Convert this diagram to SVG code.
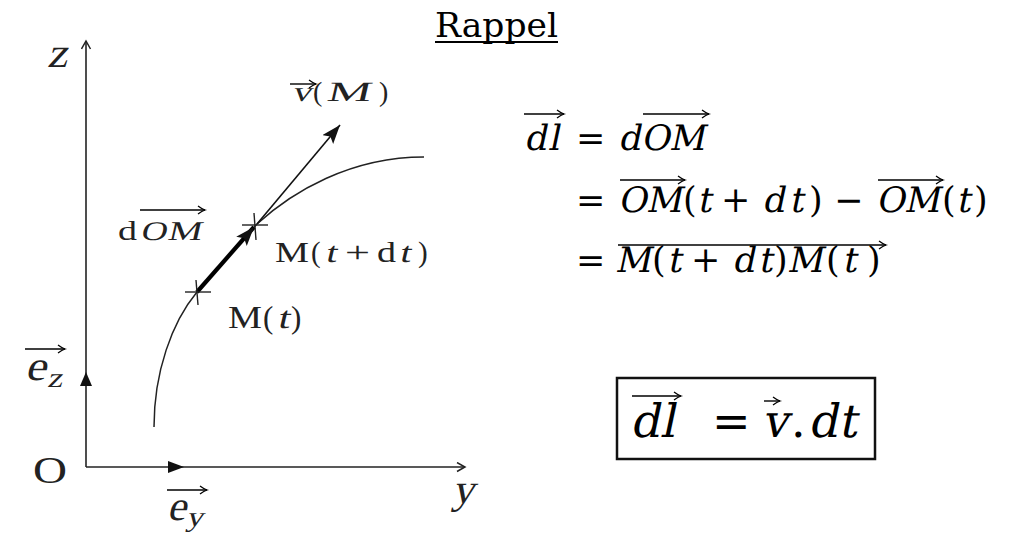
<svg xmlns="http://www.w3.org/2000/svg" width="1015" height="535" viewBox="0 0 1015 535">
<style>
.ax{stroke:#222;stroke-width:1.6;fill:none}
.cv{stroke:#222;stroke-width:1.5;fill:none}
.tk{stroke:#222;stroke-width:1.4;fill:none}
.ov{stroke:#000;stroke-width:1.4;fill:none}
.lt{font-family:"Liberation Serif",serif;fill:#222}
.eq{font-family:"DejaVu Serif",serif;fill:#000;font-size:35px}
.bg{font-family:"DejaVu Serif",serif;fill:#000;font-size:46px}
</style>
<defs>
<marker id="open" markerUnits="userSpaceOnUse" markerWidth="14" markerHeight="14" refX="9" refY="5" orient="auto">
<path d="M1,0.5 L9,5 L1,9.5" fill="none" stroke="#222" stroke-width="1.5"/>
</marker>
<marker id="vec" markerUnits="userSpaceOnUse" markerWidth="12" markerHeight="12" refX="8" refY="5" orient="auto">
<path d="M1,1 Q5,4 8,5 Q5,6 1,9" fill="none" stroke="#000" stroke-width="1.3"/>
</marker>
<marker id="fill" markerUnits="userSpaceOnUse" markerWidth="22" markerHeight="16" refX="19" refY="7" orient="auto">
<path d="M0,0 L19,7 L0,14 L4,7 Z" fill="#111"/>
</marker>
</defs>

<g id="title">
<text x="435" y="37" font-family="DejaVu Serif, serif" font-size="34" fill="#000" textLength="123" lengthAdjust="spacingAndGlyphs">Rappel</text>
<line x1="435" y1="42" x2="558" y2="42" stroke="#000" stroke-width="2"/>
</g>

<g id="axes">
<line class="ax" x1="86" y1="467" x2="86" y2="41" marker-end="url(#open)"/>
<line class="ax" x1="86" y1="467" x2="465" y2="467" marker-end="url(#open)"/>
<path d="M86,372 L80,386 L92,386 Z" fill="#111"/>
<path d="M184,467 L168,461 L168,473 Z" fill="#111"/>
<text class="lt" transform="translate(47,67) skewX(-13)" font-size="42" textLength="20" lengthAdjust="spacingAndGlyphs">z</text>
<text class="lt" transform="translate(452,503) skewX(-13)" font-size="42" textLength="22" lengthAdjust="spacingAndGlyphs">y</text>
<text class="lt" x="33" y="483" font-size="38" textLength="34" lengthAdjust="spacingAndGlyphs">O</text>
</g>

<g id="ez">
<text class="lt" transform="translate(25,380) skewX(-13)" font-size="42" textLength="21" lengthAdjust="spacingAndGlyphs">e</text>
<text class="lt" transform="translate(47,387) skewX(-13)" font-size="28" textLength="15" lengthAdjust="spacingAndGlyphs">z</text>
<line class="ov" x1="25" y1="349" x2="65" y2="349" marker-end="url(#vec)"/>
</g>

<g id="ey">
<text class="lt" transform="translate(167,520) skewX(-13)" font-size="42" textLength="19" lengthAdjust="spacingAndGlyphs">e</text>
<text class="lt" transform="translate(186,526) skewX(-13)" font-size="28" textLength="17" lengthAdjust="spacingAndGlyphs">y</text>
<line class="ov" x1="167" y1="490" x2="207" y2="490" marker-end="url(#vec)"/>
</g>

<g id="trajectory">
<path class="cv" d="M154,427 C154,372 172,322 197,292 C217,269 237,246 257,224 C292,192 350,157 424,157"/>
</g>

<g id="connectors">
<line x1="257" y1="224" x2="340" y2="125" stroke="#111" stroke-width="1.6" marker-end="url(#fill)"/>
<line x1="197" y1="292" x2="254" y2="227" stroke="#000" stroke-width="4.2" marker-end="url(#fill)"/>
</g>

<g id="Mt">
<line class="tk" x1="185" y1="292" x2="211" y2="292"/>
<line class="tk" x1="196" y1="280" x2="198" y2="305"/>
<text class="lt" x="228" y="328" font-size="31" textLength="34" lengthAdjust="spacingAndGlyphs">M</text>
<text class="lt" x="263" y="328" font-size="31">(</text>
<text class="lt" transform="translate(277,328) skewX(-13)" font-size="31" textLength="12" lengthAdjust="spacingAndGlyphs">t</text>
<text class="lt" x="291" y="328" font-size="31">)</text>
</g>

<g id="Mtdt">
<line class="tk" x1="242" y1="225" x2="268" y2="225"/>
<line class="tk" x1="254" y1="213" x2="256" y2="240"/>
<text class="lt" x="275" y="262" font-size="29" textLength="34" lengthAdjust="spacingAndGlyphs">M</text>
<text class="lt" x="311" y="262" font-size="29">(</text>
<text class="lt" transform="translate(325,262) skewX(-13)" font-size="29" textLength="11" lengthAdjust="spacingAndGlyphs">t</text>
<text class="lt" x="345" y="262" font-size="29" textLength="25" lengthAdjust="spacingAndGlyphs">+</text>
<text class="lt" x="377" y="262" font-size="29" textLength="19" lengthAdjust="spacingAndGlyphs">d</text>
<text class="lt" transform="translate(399,262) skewX(-13)" font-size="29" textLength="11" lengthAdjust="spacingAndGlyphs">t</text>
<text class="lt" x="418" y="262" font-size="29">)</text>
</g>

<g id="dOM">
<text class="lt" x="118" y="240" font-size="27" textLength="19" lengthAdjust="spacingAndGlyphs">d</text>
<text class="lt" transform="translate(140,240) skewX(-13)" font-size="27" textLength="26" lengthAdjust="spacingAndGlyphs">O</text>
<text class="lt" transform="translate(167,240) skewX(-13)" font-size="27" textLength="34" lengthAdjust="spacingAndGlyphs">M</text>
<line class="ov" x1="140" y1="210" x2="205" y2="210" marker-end="url(#vec)"/>
</g>

<g id="vM">
<text class="lt" transform="translate(292,101) skewX(-13)" font-size="28" textLength="19" lengthAdjust="spacingAndGlyphs">v</text>
<text class="lt" x="313" y="101" font-size="28">(</text>
<text class="lt" transform="translate(326,101) skewX(-13)" font-size="28" textLength="44" lengthAdjust="spacingAndGlyphs">M</text>
<text class="lt" x="379" y="101" font-size="28">)</text>
<line class="ov" x1="290" y1="84" x2="316" y2="84" marker-end="url(#vec)"/>
</g>

<g id="equations">
<text class="eq" transform="translate(524,150) skewX(-12)">d</text>
<text class="eq" transform="translate(548,150) skewX(-12)">l</text>
<text class="eq" x="576" y="150">=</text>
<text class="eq" transform="translate(618,150) skewX(-12)">d</text>
<text class="eq" transform="translate(641,150) skewX(-12)">O</text>
<text class="eq" transform="translate(669,150) skewX(-12)">M</text>
<line class="ov" x1="524" y1="114" x2="564" y2="114" marker-end="url(#vec)"/>
<line class="ov" x1="643" y1="114" x2="709" y2="114" marker-end="url(#vec)"/>

<text class="eq" x="576" y="212">=</text>
<text class="eq" transform="translate(618,212) skewX(-12)">O</text>
<text class="eq" transform="translate(646,212) skewX(-12)">M</text>
<text class="eq" x="683" y="212">(</text>
<text class="eq" transform="translate(697,212) skewX(-12)">t</text>
<text class="eq" x="721" y="212">+</text>
<text class="eq" transform="translate(762,212) skewX(-12)">d</text>
<text class="eq" transform="translate(789,212) skewX(-12)">t</text>
<text class="eq" x="809" y="212">)</text>
<text class="eq" x="834" y="212">−</text>
<text class="eq" transform="translate(876,212) skewX(-12)">O</text>
<text class="eq" transform="translate(904,212) skewX(-12)">M</text>
<text class="eq" x="942" y="212">(</text>
<text class="eq" transform="translate(956,212) skewX(-12)">t</text>
<text class="eq" x="974" y="212">)</text>
<line class="ov" x1="620" y1="180" x2="685" y2="180" marker-end="url(#vec)"/>
<line class="ov" x1="878" y1="180" x2="943" y2="180" marker-end="url(#vec)"/>

<text class="eq" x="576" y="272">=</text>
<text class="eq" transform="translate(615,272) skewX(-12)">M</text>
<text class="eq" x="652" y="272">(</text>
<text class="eq" transform="translate(667,272) skewX(-12)">t</text>
<text class="eq" x="691" y="272">+</text>
<text class="eq" transform="translate(732,272) skewX(-12)">d</text>
<text class="eq" transform="translate(758,272) skewX(-12)">t</text>
<text class="eq" x="774" y="272">)</text>
<text class="eq" transform="translate(787,272) skewX(-12)">M</text>
<text class="eq" x="826" y="272">(</text>
<text class="eq" transform="translate(842,272) skewX(-12)">t</text>
<text class="eq" x="867" y="272">)</text>
<line class="ov" x1="618" y1="245" x2="886" y2="245" marker-end="url(#vec)"/>
</g>

<g id="result">
<rect x="617" y="378" width="258" height="81" fill="none" stroke="#111" stroke-width="2.5"/>
<text class="bg" transform="translate(630,437) skewX(-12)">d</text>
<text class="bg" transform="translate(660,437) skewX(-12)">l</text>
<text class="bg" x="712" y="437">=</text>
<text class="bg" transform="translate(762,437) skewX(-12)">v</text>
<text class="bg" x="791" y="437">.</text>
<text class="bg" transform="translate(808,437) skewX(-12)">d</text>
<text class="bg" transform="translate(838,437) skewX(-12)">t</text>
<line class="ov" x1="632" y1="396" x2="681" y2="396" marker-end="url(#vec)"/>
<line class="ov" x1="764" y1="401" x2="780" y2="401" marker-end="url(#vec)"/>
</g>
</svg>
